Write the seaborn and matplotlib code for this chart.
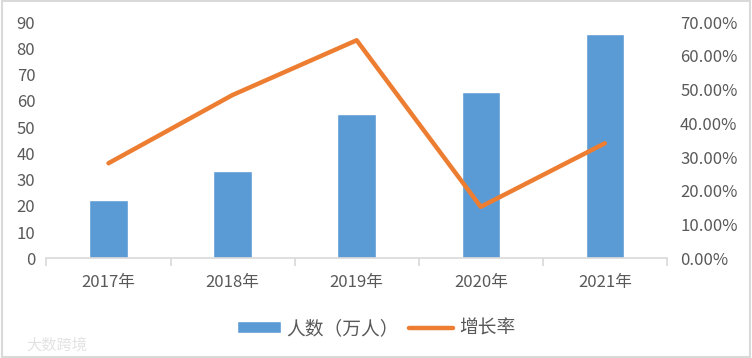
import matplotlib
matplotlib.use("Agg")
import matplotlib.pyplot as plt
import seaborn as sns
import numpy as np
import pandas as pd
from matplotlib.patches import Rectangle
from matplotlib.ticker import FixedLocator, PercentFormatter

years = ["2017年", "2018年", "2019年", "2020年", "2021年"]
people = [22.3, 33.4, 55.0, 63.5, 85.5]
growth = [28.2, 48.4, 64.6, 15.3, 34.1]
left_ticks = [0, 10, 20, 30, 40, 50, 60, 70, 80, 90]
right_ticks = [0, 10, 20, 30, 40, 50, 60, 70]

sns.set_theme(style="white")
plt.rcParams['font.family'] = ['Noto Sans CJK SC', 'DejaVu Sans']

BLUE = "#5B9BD5"
ORANGE = "#ED7D31"
TXT = "#595959"
GRID = "#D9D9D9"

df = pd.DataFrame({"year": years, "people": people, "growth": growth})

fig = plt.figure(figsize=(7.52, 3.58), dpi=100)
ax = fig.add_axes([0.0618, 0.278, 0.825, 0.6605])

sns.barplot(data=df, x="year", y="people", color=BLUE, width=0.31,
            saturation=1, ax=ax, label="人数（万人）")
if ax.get_legend() is not None:
    ax.get_legend().remove()
ax.set_ylim(0, 90)
ax.set_xlim(-0.5, 4.5)
ax.set_yticks(left_ticks)
ax.set_xlabel("")
ax.set_ylabel("")

ax2 = ax.twinx()
sns.lineplot(data=df, x="year", y="growth", color=ORANGE, linewidth=3.2,
             ax=ax2, sort=False, label="增长率", legend=False)
if ax2.get_legend() is not None:
    ax2.get_legend().remove()
ax2.set_ylim(0, 70)
ax2.set_xlim(-0.5, 4.5)
ax2.set_yticks(right_ticks)
ax2.yaxis.set_major_formatter(PercentFormatter(decimals=2))
ax2.set_ylabel("")
ax2.set_xlabel("")

for a in (ax, ax2):
    for s in ("top", "left", "right", "bottom"):
        a.spines[s].set_visible(False)
ax.spines["bottom"].set_visible(True)
ax.spines["bottom"].set_color(GRID)
ax.spines["bottom"].set_linewidth(1.2)

ax.tick_params(axis="y", length=0, labelsize=12, labelcolor=TXT, pad=8)
ax2.tick_params(axis="y", length=0, labelsize=12, labelcolor=TXT, pad=9.5)
ax.tick_params(axis="x", which="major", length=0, labelsize=12, labelcolor=TXT, pad=11)
ax.xaxis.set_minor_locator(FixedLocator([-0.5, 0.5, 1.5, 2.5, 3.5, 4.5]))
ax.tick_params(axis="x", which="minor", length=5.5, width=1.2, color=GRID, bottom=True)
ax.grid(False)
ax2.grid(False)

h1, l1 = ax.get_legend_handles_labels()
h2, l2 = ax2.get_legend_handles_labels()
leg = fig.legend(h1 + h2, l1 + l2, loc="center", bbox_to_anchor=(0.5, 0.083),
                 ncol=2, frameon=False, fontsize=13.5, handlelength=2.35,
                 handleheight=0.6, columnspacing=0.55, handletextpad=0.3)
for t in leg.get_texts():
    t.set_color(TXT)

fig.text(0.035, 0.035, "大数跨境", fontsize=11, color="#E3E3E3", ha="left", va="center")

fig.patches.append(Rectangle((0.002, 0.003), 0.996, 0.994, transform=fig.transFigure,
                             fill=False, edgecolor=GRID, linewidth=1.5))

fig.savefig("out.png", dpi=100)
